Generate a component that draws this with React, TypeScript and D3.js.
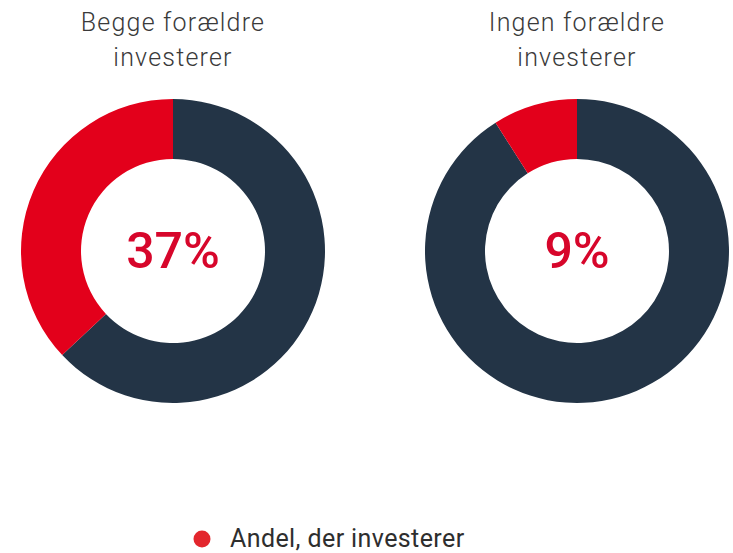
import React from "react";
import { pie, arc, scalePoint, PieArcDatum } from "d3";

// data
const groups = ["Begge forældre investerer", "Ingen forældre investerer"];
const titleLines = [
  ["Begge forældre", "investerer"],
  ["Ingen forældre", "investerer"],
];
const shares = [37, 9];
const legendLabel = "Andel, der investerer";

const width = 733;
const height = 553;
const red = "#e3001b";
const dark = "#233446";
const font = "Roboto, 'Noto Sans', sans-serif";

export default function App() {
  const x = scalePoint<string>().domain(groups).range([173, 577]);
  const cy = 251;

  const pieGen = pie<number>().sort(null);
  const arcGen = arc<PieArcDatum<number>>().innerRadius(92).outerRadius(152);

  return (
    <svg
      width={width}
      height={height}
      style={{ position: "absolute", left: 0, top: 0, background: "#fff" }}
    >
      {groups.map((g, i) => {
        const cx = x(g) as number;
        // rest first so the red slice ends at 12 o'clock
        const slices = pieGen([100 - shares[i], shares[i]]);
        return (
          <g key={g}>
            {titleLines[i].map((line, j) => (
              <text
                key={j}
                x={cx}
                y={31 + j * 35}
                textAnchor="middle"
                fontFamily={font}
                fontWeight={300}
                fontSize={25}
                letterSpacing={1.2}
                fill="#3a3a3a"
              >
                {line}
              </text>
            ))}
            <g transform={`translate(${cx},${cy})`}>
              {slices.map((s, k) => (
                <path key={k} d={arcGen(s) || ""} fill={k === 1 ? red : dark} />
              ))}
              <text
                y={17}
                textAnchor="middle"
                fontFamily={font}
                fontWeight={500}
                fontSize={50}
                fill="#d7062b"
              >
                {shares[i]}%
              </text>
            </g>
          </g>
        );
      })}
      <g transform="translate(202,539)">
        <circle r={8.5} fill="#e3262d" />
        <text
          x={28}
          y={8}
          fontFamily={font}
          fontSize={25}
          letterSpacing={0.4}
          fill="#2e2e2e"
        >
          {legendLabel}
        </text>
      </g>
    </svg>
  );
}
